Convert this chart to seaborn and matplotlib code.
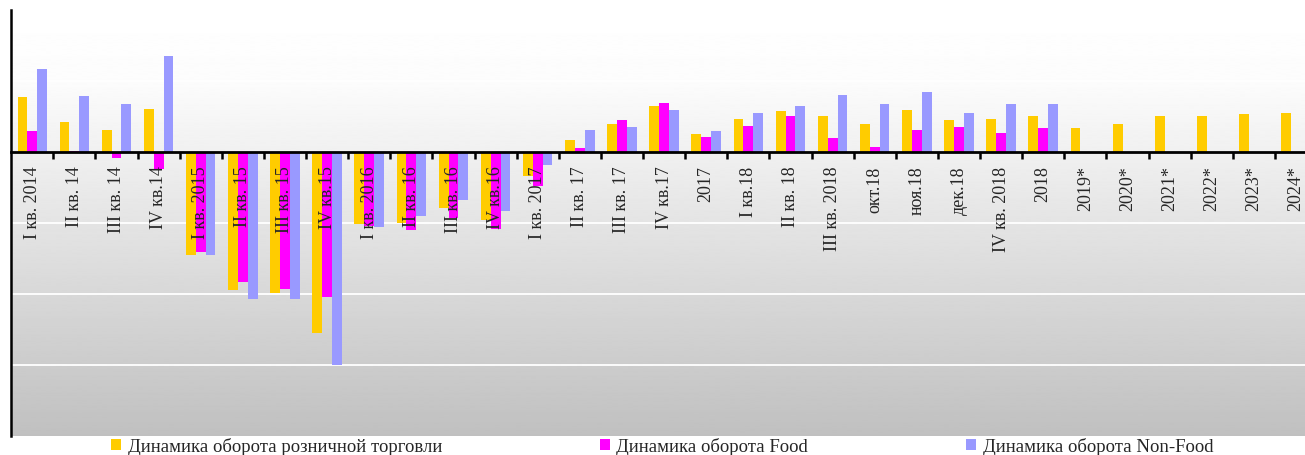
import numpy as np
import pandas as pd
import matplotlib
matplotlib.use("Agg")
import matplotlib.pyplot as plt
import seaborn as sns
from matplotlib.ticker import FixedLocator

categories = ["I кв. 2014", "II кв. 14", "III кв. 14", "IV кв.14",
              "I кв. 2015", "II кв. 15", "III кв. 15", "IV кв.15",
              "I кв. 2016", "II кв. 16", "III кв. 16", "IV кв.16",
              "I кв. 2017", "II кв. 17", "III кв. 17", "IV кв.17", "2017",
              "I кв.18", "II кв. 18", "III кв. 2018", "окт.18", "ноя.18", "дек.18",
              "IV кв. 2018", "2018", "2019*", "2020*", "2021*", "2022*", "2023*", "2024*"]

retail = [3.9, 2.1, 1.6, 3.05, -7.2, -9.7, -9.9, -12.7, -5.05, -4.95, -3.9, -4.8,
          -1.65, 0.9, 2.0, 3.25, 1.3, 2.35, 2.9, 2.55, 2.0, 3.0, 2.25, 2.35, 2.55,
          1.7, 2.0, 2.55, 2.55, 2.7, 2.75]
food = [1.5, 0.1, -0.4, -1.15, -7.0, -9.1, -9.6, -10.2, -5.2, -5.45, -4.6, -5.4,
        -2.35, 0.3, 2.25, 3.45, 1.1, 1.85, 2.55, 1.0, 0.35, 1.55, 1.8, 1.35, 1.7,
        np.nan, np.nan, np.nan, np.nan, np.nan, np.nan]
nonfood = [5.9, 4.0, 3.4, 6.8, -7.2, -10.3, -10.3, -15.0, -5.25, -4.5, -3.35, -4.1,
           -0.9, 1.55, 1.8, 3.0, 1.5, 2.75, 3.25, 4.05, 3.4, 4.25, 2.75, 3.4, 3.4,
           np.nan, np.nan, np.nan, np.nan, np.nan, np.nan]

series_names = ["Динамика оборота розничной торговли", "Динамика оборота Food",
                "Динамика оборота Non-Food"]
colors = ["#FFCC00", "#FF00FF", "#9999FF"]

rows = []
for name, vals in zip(series_names, [retail, food, nonfood]):
    for c, v in zip(categories, vals):
        rows.append({"cat": c, "series": name, "val": v})
df = pd.DataFrame(rows)

sns.set_style("white")
plt.rcParams["font.family"] = ["Liberation Serif", "DejaVu Serif"]

W, H = 1305, 456
fig = plt.figure(figsize=(W / 100, H / 100), dpi=100)
left_px, right_px, top_px, bot_px = 11.2, 1317.0, 11.3, 437.3
ax = fig.add_axes([left_px / W, (H - bot_px) / H, (right_px - left_px) / W, (bot_px - top_px) / H])

# gradient background: near white at top, grey at bottom
t = np.linspace(0, 1, 512)
frac_start = (83 - top_px) / (bot_px - top_px)
vals = np.where(t < frac_start, 1.0 - 0.012 * t / frac_start,
                0.988 - (0.988 - 0.753) * (t - frac_start) / (1 - frac_start))
grad = vals.reshape(-1, 1)
ax.imshow(grad, extent=[0, 1, 0, 1], transform=ax.transAxes, aspect="auto",
          cmap="gray", vmin=0, vmax=1, origin="upper", zorder=0, interpolation="bilinear")

sns.barplot(data=df, x="cat", y="val", hue="series", order=categories,
            hue_order=series_names, palette=colors, saturation=1, width=0.7,
            errorbar=None, linewidth=0, edgecolor="none", ax=ax, zorder=2,
            legend=True)

ax.set_xlim(-0.5, len(categories) - 0.5)
ax.set_ylim(-20, 10)

for yv in [-15, -10, -5, 5]:
    ax.axhline(yv, color="white", lw=1.3, zorder=1)

ax.set_axisbelow(False)
ax.grid(False)
ax.set_xlabel("")
ax.set_ylabel("")
ax.set_yticks([])
for s in ["top", "right"]:
    ax.spines[s].set_visible(False)
ax.spines["left"].set_linewidth(1.8)
ax.spines["left"].set_color("black")
ax.spines["bottom"].set_position(("data", 0))
ax.spines["bottom"].set_linewidth(2.0)
ax.spines["bottom"].set_color("black")
ax.spines["bottom"].set_zorder(3)

ax.set_xticks(range(len(categories)))
ax.set_xticklabels(categories, rotation=90, fontsize=13)
ax.xaxis.set_minor_locator(FixedLocator(np.arange(0.5, len(categories) - 0.5, 1.0)))
ax.tick_params(axis="x", which="major", length=0, pad=9.5)
ax.tick_params(axis="x", which="minor", length=5, width=1.8, color="black", direction="out", bottom=True)

leg = ax.get_legend()
handles = leg.legend_handles
leg.remove()
fig.legend(handles, series_names, loc="center", bbox_to_anchor=(662 / W, (H - 447) / H),
           ncol=3, frameon=False, fontsize=13.5, handlelength=0.55, handleheight=0.55,
           handletextpad=0.35, columnspacing=8.4, borderpad=0, borderaxespad=0)

fig.savefig("out.png", dpi=100)
